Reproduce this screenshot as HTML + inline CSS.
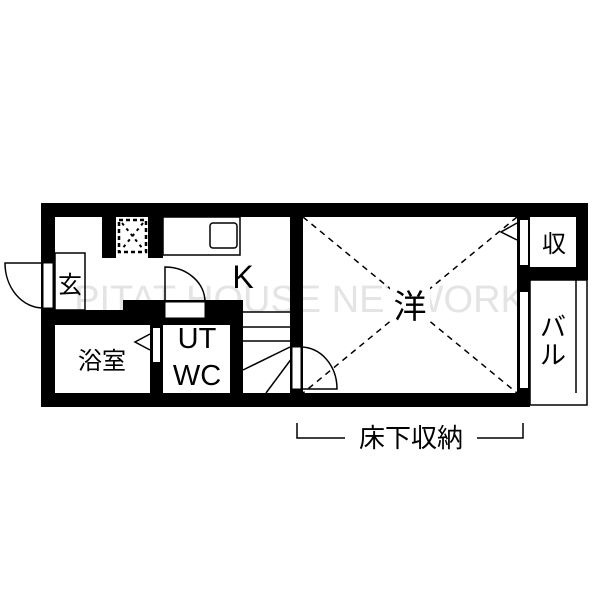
<!DOCTYPE html>
<html><head><meta charset="utf-8"><style>
html,body{margin:0;padding:0;background:#fff;}
svg{display:block;}
text{font-family:"Liberation Sans","Noto Sans CJK JP",sans-serif;fill:#000;}
</style></head><body>
<svg width="600" height="600" viewBox="0 0 600 600" xmlns="http://www.w3.org/2000/svg">
<rect width="600" height="600" fill="#fff"/>
<text x="300" y="312" font-size="38" text-anchor="middle" style="fill:#e4e4e4" font-family="Liberation Sans">PITAT HOUSE NETWORK</text>
<rect x="41" y="203" width="489" height="14" fill="#000"/>
<rect x="517" y="203" width="71" height="14" fill="#000"/>
<rect x="41" y="393" width="489" height="14" fill="#000"/>
<rect x="41" y="203" width="14" height="204" fill="#000"/>
<rect x="576" y="203" width="12" height="77" fill="#000"/>
<rect x="517" y="267" width="71" height="13" fill="#000"/>
<rect x="517" y="203" width="13" height="204" fill="#000"/>
<rect x="520" y="220" width="8" height="45" fill="#fff"/>
<rect x="520" y="292" width="8" height="96" fill="#fff"/>
<rect x="530" y="280" width="57" height="125" fill="none" stroke="#000" stroke-width="1.5"/>
<line x1="576" y1="280" x2="576" y2="393" stroke="#000" stroke-width="1.5"/>
<rect x="290" y="203" width="13" height="204" fill="#000"/>
<rect x="292" y="347" width="9" height="42" fill="#fff" stroke="#000" stroke-width="1"/>
<rect x="41" y="310" width="90" height="15" fill="#000"/>
<rect x="123" y="300" width="120" height="25" fill="#000"/>
<rect x="165" y="302" width="40" height="16" fill="#fff" stroke="#000" stroke-width="1"/>
<rect x="150" y="325" width="13" height="82" fill="#000"/>
<rect x="153" y="328" width="7" height="34" fill="#fff"/>
<rect x="230" y="300" width="13" height="107" fill="#000"/>
<rect x="43" y="263" width="10" height="45" fill="#fff" stroke="#000" stroke-width="1"/>
<path d="M43 263 L5 263 A38 45 0 0 0 43 308" fill="none" stroke="#000" stroke-width="1.5"/>
<rect x="55" y="253" width="30" height="57" fill="none" stroke="#000" stroke-width="1.5"/>
<rect x="102" y="217" width="14" height="41" fill="#000"/>
<rect x="148" y="217" width="15" height="41" fill="#000"/>
<rect x="119" y="220" width="27" height="32" fill="none" stroke="#000" stroke-width="2.5" stroke-dasharray="4,3"/>
<line x1="122" y1="223" x2="143" y2="249" stroke="#000" stroke-width="2" stroke-dasharray="3,4"/>
<line x1="143" y1="223" x2="122" y2="249" stroke="#000" stroke-width="2" stroke-dasharray="3,4"/>
<rect x="163" y="217" width="77" height="38" fill="none" stroke="#000" stroke-width="1.5"/>
<rect x="210" y="223" width="27" height="25" rx="3" fill="none" stroke="#000" stroke-width="1.5"/>
<path d="M165 302 L165 267 A40 35 0 0 1 205 302" fill="none" stroke="#000" stroke-width="1.5"/>
<path d="M150 334 L135 342 L150 350" fill="none" stroke="#000" stroke-width="1.5"/>
<line x1="243" y1="312" x2="290" y2="312" stroke="#000" stroke-width="1.5"/>
<line x1="243" y1="327" x2="290" y2="327" stroke="#000" stroke-width="1.5"/>
<line x1="243" y1="341" x2="290" y2="341" stroke="#000" stroke-width="1.5"/>
<line x1="243" y1="370" x2="290" y2="347" stroke="#000" stroke-width="1.5"/>
<line x1="266" y1="393" x2="292" y2="358" stroke="#000" stroke-width="1.5"/>
<path d="M301 347 A36 42 0 0 1 337 389 L301 389" fill="none" stroke="#000" stroke-width="1.5"/>
<line x1="303" y1="217" x2="517" y2="393" stroke="#000" stroke-width="1.5" stroke-dasharray="6,5"/>
<line x1="517" y1="217" x2="303" y2="393" stroke="#000" stroke-width="1.5" stroke-dasharray="6,5"/>
<rect x="390" y="284" width="40" height="40" fill="#fff"/>
<path d="M517 223 L501 232 L517 240" fill="none" stroke="#000" stroke-width="1.5"/>
<text x="70" y="293" font-size="24" text-anchor="middle">玄</text>
<text x="243" y="288" font-size="32" text-anchor="middle">K</text>
<text x="102" y="369" font-size="24" text-anchor="middle">浴室</text>
<text x="197" y="348" font-size="29" text-anchor="middle">UT</text>
<text x="197" y="385" font-size="29" text-anchor="middle">WC</text>
<text x="410" y="318" font-size="33" text-anchor="middle">洋</text>
<text x="554" y="252" font-size="24" text-anchor="middle">収</text>
<text x="553" y="336" font-size="26" text-anchor="middle">バ</text>
<text x="553" y="364" font-size="26" text-anchor="middle">ル</text>
<path d="M297 423 L297 438 L345 438" fill="none" stroke="#000" stroke-width="1.5"/>
<path d="M477 438 L523 438 L523 423" fill="none" stroke="#000" stroke-width="1.5"/>
<text x="411" y="447" font-size="26" text-anchor="middle">床下収納</text>
</svg>
</body></html>
